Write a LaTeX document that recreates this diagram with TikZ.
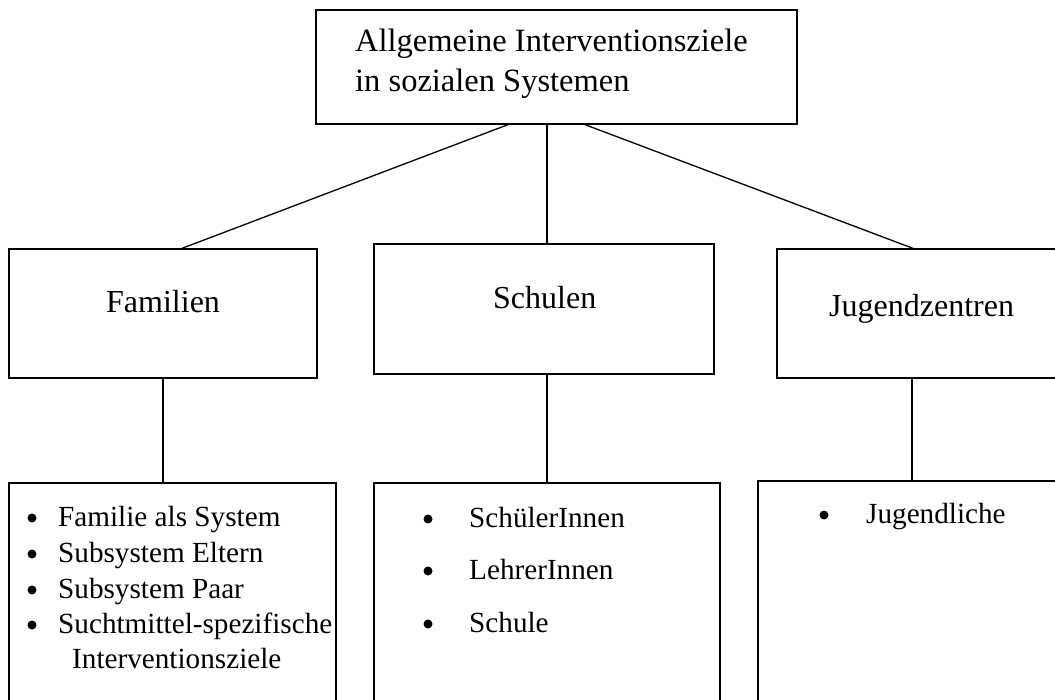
\documentclass[tikz,border=0pt]{standalone}
\usepackage{fontspec}
\setmainfont{Liberation Serif}
\begin{document}
\begin{tikzpicture}[x=1pt,y=-1pt,
  box/.style={draw, line width=1.3pt, inner sep=0pt},
  link/.style={line width=1.3pt},
  txt/.style={anchor=base west, inner sep=0pt},
  headtxt/.style={txt, font=\fontsize{32.5}{40}\selectfont},
  midtxt/.style={txt, font=\fontsize{32}{38}\selectfont},
  itemtxt/.style={txt, font=\fontsize{29.2}{35}\selectfont},
  dot/.style={fill=black}]
\clip (0,0) rectangle (1055,700);

% boxes
\node[box, minimum width=481pt, minimum height=114pt] (top) at (556.5,67) {};
\node[box, minimum width=308pt, minimum height=129pt] (fam) at (163,313.5) {};
\node[box, minimum width=340pt, minimum height=130pt] (schul) at (544,309) {};
\node[box, minimum width=288pt, minimum height=129pt] (jug) at (921,313.5) {};
\node[box, minimum width=327pt, minimum height=237pt] (famlist) at (172.5,601.5) {};
\node[box, minimum width=346pt, minimum height=237pt] (schullist) at (547,601.5) {};
\node[box, minimum width=307pt, minimum height=239pt] (juglist) at (911.5,600.5) {};

% connectors
\draw[link] ([xshift=-48.5pt]top.south) -- ([xshift=19pt]fam.north);
\draw[link] ([xshift=-9.5pt]top.south) -- ([xshift=3pt]schul.north);
\draw[link] ([xshift=28.5pt]top.south) -- ([xshift=-8pt]jug.north);
\draw[link] (fam.south) -- (fam.south |- famlist.north);
\draw[link] ([xshift=3pt]schul.south) -- ([xshift=3pt]schul.south |- schullist.north);
\draw[link] ([xshift=-9pt]jug.south) -- ([xshift=-9pt]jug.south |- juglist.north);

% headings
\node[headtxt] (topA) at (355,52) {Allgemeine Interventionsziele};
\node[headtxt] (topB) at (355,92) {in sozialen Systemen};
\node[midtxt] (famT) at (106,313) {Familien};
\node[midtxt] (schulT) at (493,309) {Schulen};
\node[midtxt] (jugT) at (829,317) {Jugendzentren};

% family items
\foreach \yy in {526,562,598,633} \fill[dot] (32,\yy-8) circle (4.5);
\node[itemtxt] (f1) at (58,526) {Familie als System};
\node[itemtxt] (f2) at (58,562) {Subsystem Eltern};
\node[itemtxt] (f3) at (58,598) {Subsystem Paar};
\node[itemtxt] (f4) at (58,633) {Suchtmittel-spezifische};
\node[itemtxt] (f5) at (72,668) {Interventionsziele};

% school items
\foreach \yy in {527,579,632} \fill[dot] (428,\yy-8) circle (4.5);
\node[itemtxt] (s1) at (469,527) {SchülerInnen};
\node[itemtxt] (s2) at (469,579) {LehrerInnen};
\node[itemtxt] (s3) at (469,632) {Schule};

% youth centre items
\fill[dot] (824,515) circle (4.5);
\node[itemtxt] (j1) at (866,523) {Jugendliche};
\end{tikzpicture}
\end{document}
